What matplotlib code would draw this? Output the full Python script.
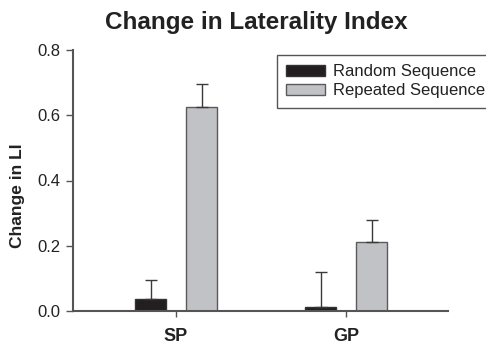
import matplotlib
matplotlib.use("Agg")
import matplotlib.pyplot as plt
import numpy as np

plt.rcParams['font.family'] = ['Liberation Sans', 'DejaVu Sans']

groups = ["SP", "GP"]
series = ["Random Sequence", "Repeated Sequence"]
random_vals = [0.036, 0.011]
random_err = [0.058, 0.108]
repeated_vals = [0.625, 0.210]
repeated_err = [0.072, 0.069]
yticks = [0.0, 0.2, 0.4, 0.6, 0.8]

fig = plt.figure(figsize=(4.86, 3.48), dpi=100)
ax = fig.add_axes([73 / 486, 1 - 311 / 348, 375 / 486, 261 / 348])

x = np.arange(len(groups))
w = 0.182
off = 0.15
errkw = dict(ecolor="#3a3a3a", elinewidth=1.0, capsize=4, capthick=1.0)
ax.bar(x - off, random_vals, w, yerr=[[0, 0], random_err], color="#231f20",
       edgecolor="#333333", linewidth=1.0, label=series[0], error_kw=errkw, zorder=2)
ax.bar(x + off, repeated_vals, w, yerr=[[0, 0], repeated_err], color="#c1c2c5",
       edgecolor="#5a5a5a", linewidth=1.0, label=series[1], error_kw=errkw, zorder=2)

ax.set_xlim(-0.606, 1.6)
ax.set_ylim(0, 0.8)
ax.set_yticks(yticks)
ax.set_yticklabels([f"{v:.1f}" for v in yticks], fontsize=12, color="#222222")
ax.set_xticks(x)
ax.set_xticklabels(groups, fontsize=13, fontweight="bold", color="#222222")
ax.tick_params(axis="y", direction="out", length=5, width=1, color="#555555", pad=4)
ax.tick_params(axis="x", direction="out", length=4, width=1, color="#555555", pad=8)

for s in ["top", "right"]:
    ax.spines[s].set_visible(False)
for s in ["left", "bottom"]:
    ax.spines[s].set_color("#555555")
    ax.spines[s].set_linewidth(1.5)

ax.set_ylabel("Change in LI", fontsize=12.5, fontweight="bold", labelpad=9,
              color="#222222", y=0.44)
fig.text(0.528, 1 - 22 / 348, "Change in Laterality Index", ha="center", va="center",
         fontsize=17.5, fontweight="bold", color="#222222")

leg = fig.legend(loc="upper left", bbox_to_anchor=(277 / 486, 1 - 55 / 348),
                 fontsize=12, handlelength=2.3, handleheight=0.6, handletextpad=0.5,
                 labelspacing=0.25, borderpad=0.55, fancybox=False, framealpha=1,
                 edgecolor="#555555", borderaxespad=0)
leg.get_frame().set_linewidth(1.0)
for t in leg.get_texts():
    t.set_color("#222222")

fig.savefig("out.png", dpi=100)
